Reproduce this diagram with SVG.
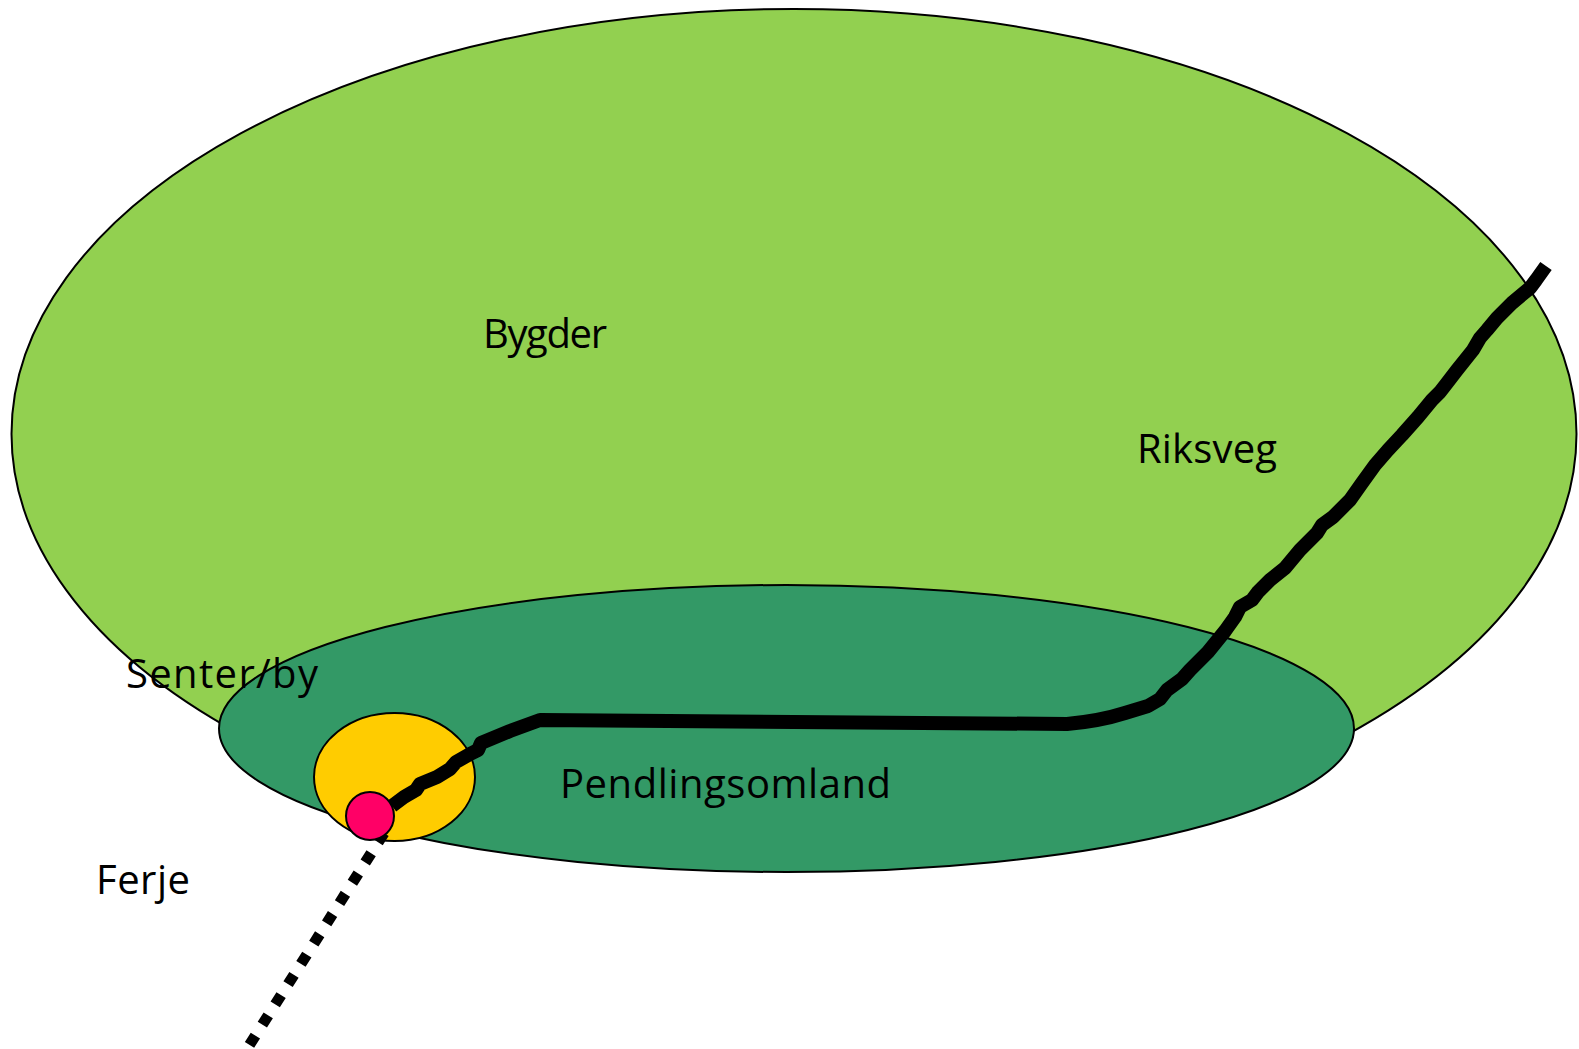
<svg xmlns="http://www.w3.org/2000/svg" width="1579" height="1049" viewBox="0 0 1579 1049">
<style>
.lbl{font-family:"Open Sans","Liberation Sans",sans-serif;font-size:40px;fill:#000}
.shape{stroke:#000;stroke-width:2}
</style>
<rect width="1579" height="1049" fill="#fff"/>
<g id="bygder">
<ellipse class="shape" cx="794" cy="434" rx="782.5" ry="425" fill="#92D050"/>
</g>
<g id="pendlingsomland">
<ellipse class="shape" cx="786.5" cy="728.5" rx="567.5" ry="143.5" fill="#339966"/>
</g>
<g id="senter">
<ellipse class="shape" cx="394.5" cy="777" rx="80.5" ry="64" fill="#FFCC00"/>
</g>
<g id="connectors">
<path id="riksveg" fill="none" stroke="#000" stroke-width="14" stroke-linejoin="round" d="M392 806 L404 797 L416 790 L420 784 L437 777 L450 769 L456 762 L470 754 L478 750 L481 743 L510 731 L540 720 L1067 724 Q1100 721 1125 713 L1148 706 L1160 699 L1167 690 L1182 679 L1190 670 L1208 652 L1225 631 L1235 617 L1240 607 L1252 600 L1258 592 L1270 580 L1285 568 L1300 550 L1317 533 L1322 525 L1333 517 L1350 500 L1362 483 L1375 465 L1388 450 L1402 435 L1418 417 L1432 400 L1440 392 L1447 383 L1457 370 L1473 350 L1480 338 L1487 330 L1497 318 L1512 303 L1530 288 L1536 280 L1546 266"/>
<path id="ferje" fill="none" stroke="#000" stroke-width="11" stroke-dasharray="11 13" d="M384 833 L245 1052"/>
</g>
<g id="sentrum">
<circle class="shape" cx="370" cy="816" r="24" fill="#FF0066"/>
</g>
<g id="labels">
<text class="lbl" x="483" y="348" textLength="124" lengthAdjust="spacing">Bygder</text>
<text class="lbl" x="1137" y="463" textLength="140" lengthAdjust="spacing">Riksveg</text>
<text class="lbl" x="126" y="688" textLength="192" lengthAdjust="spacing">Senter/by</text>
<text class="lbl" x="560" y="798" textLength="331" lengthAdjust="spacing">Pendlingsomland</text>
<text class="lbl" x="96" y="894" textLength="94" lengthAdjust="spacing">Ferje</text>
</g>
</svg>
